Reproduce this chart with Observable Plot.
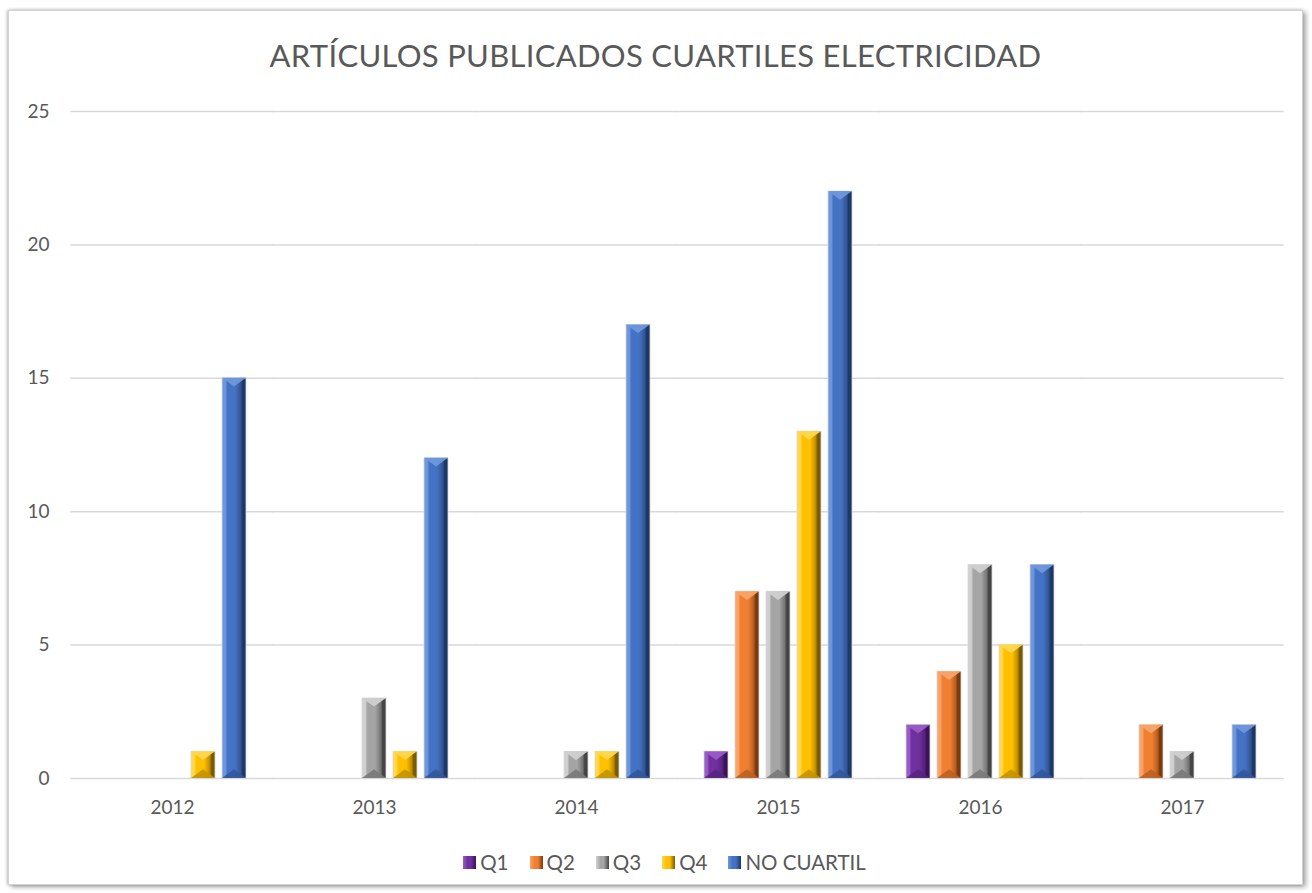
<!DOCTYPE html>
<html>
<head>
<meta charset="utf-8">
<script src="https://cdn.jsdelivr.net/npm/d3@7"></script>
<script src="https://cdn.jsdelivr.net/npm/@observablehq/plot@0.6"></script>
<style>
  html, body { margin: 0; padding: 0; background: #fff; }
  body { width: 1312px; height: 893px; position: relative; overflow: hidden; font-family: Lato, "Open Sans", sans-serif; }
  #frame {
    position: absolute; left: 8px; top: 10px; width: 1293px; height: 873px;
    border: 1px solid #d4d4d4; box-shadow: 3px 2px 5px rgba(0,0,0,0.35), -1px 0 3px rgba(0,0,0,0.25);
    background: #fff;
  }
  #title { height: 85px; line-height: 88px; text-align: center; font-size: 31px; color: #595959; letter-spacing: 0.3px; }
  #chart svg { display: block; }
  #legend { display: flex; justify-content: center; align-items: center; gap: 21px; font-size: 20.5px; color: #595959; margin-top: 9px; padding-left: 18px; }
  .item { display: flex; align-items: center; gap: 4px; }
  .sw { width: 13px; height: 13px; }
</style>
</head>
<body>
<div id="frame">
  <div id="title">ARTÍCULOS PUBLICADOS CUARTILES ELECTRICIDAD</div>
  <div id="chart"></div>
  <div id="legend"></div>
</div>
<script>
const years = ["2012", "2013", "2014", "2015", "2016", "2017"];
const series = ["Q1", "Q2", "Q3", "Q4", "NO CUARTIL"];
const q1 = [0, 0, 0, 1, 2, 0];
const q2 = [0, 0, 0, 7, 4, 2];
const q3 = [0, 3, 1, 7, 8, 1];
const q4 = [1, 1, 1, 13, 5, 0];
const noCuartil = [15, 12, 17, 22, 8, 2];
const yTicks = [0, 5, 10, 15, 20, 25];
const colors = ["#7030a0", "#f07f32", "#a5a5a5", "#ffc000", "#4472c4"];
const lights = ["#9a5cc8", "#f9a468", "#d0d0d0", "#ffd84d", "#6f97dc"];
const darks = ["#3a1256", "#7a3a0e", "#444444", "#7a5a00", "#1d3766"];

const valueArrays = [q1, q2, q3, q4, noCuartil];
const data = [];
years.forEach((yr, j) => series.forEach((s, i) => data.push({year: yr, series: s, value: valueArrays[i][j], idx: i})));

const W = 1293, ML = 61, MR = 19;
const fxPadInner = 0.18, fxPadOuter = 0.09;
const fxStep = (W - ML - MR) / (years.length - fxPadInner + 2 * fxPadOuter);
const gapHalf = fxStep * fxPadInner / 2 + 0.5;

const barMarks = series.map((s, i) =>
  Plot.barY(data.filter(d => d.series === s && d.value > 0), {
    fx: "year", x: "series", y: "value",
    fill: `url(#grad${i})`, stroke: "#d8d8d8", strokeWidth: 0.8
  })
);

const plot = Plot.plot({
  width: W,
  height: 745,
  marginLeft: ML,
  marginRight: MR,
  marginTop: 15,
  marginBottom: 63,
  style: {fontFamily: "Lato, 'Open Sans', sans-serif", fontSize: "19px", color: "#595959", background: "transparent"},
  fx: {domain: years, paddingInner: fxPadInner, paddingOuter: fxPadOuter, label: null, tickSize: 0, tickPadding: 22, axis: "bottom"},
  x: {domain: series, padding: 0.21, axis: null},
  y: {domain: [0, 25], ticks: yTicks, label: null, tickSize: 0, tickPadding: 40},
  marks: [
    Plot.ruleY(yTicks, {stroke: "#d9d9d9", strokeWidth: 1.5, insetLeft: -gapHalf, insetRight: -gapHalf}),
    ...barMarks
  ]
});

// gradient definitions for bevel look
const svgNS = "http://www.w3.org/2000/svg";
const defs = document.createElementNS(svgNS, "defs");
colors.forEach((c, i) => {
  const g = document.createElementNS(svgNS, "linearGradient");
  g.setAttribute("id", `grad${i}`);
  g.setAttribute("x1", "0"); g.setAttribute("x2", "1"); g.setAttribute("y1", "0"); g.setAttribute("y2", "0");
  [[0, lights[i]], [0.14, lights[i]], [0.22, c], [0.55, c], [0.78, d3.interpolateRgb(c, darks[i])(0.5)], [0.86, darks[i]], [1, darks[i]]].forEach(([o, col]) => {
    const st = document.createElementNS(svgNS, "stop");
    st.setAttribute("offset", o); st.setAttribute("stop-color", col);
    g.appendChild(st);
  });
  defs.appendChild(g);
});
const svgEl = plot.tagName.toLowerCase() === "svg" ? plot : plot.querySelector("svg");
svgEl.insertBefore(defs, svgEl.firstChild);

// bevel caps derived from the rendered bar rects
const allRects = Array.from(svgEl.querySelectorAll("rect"));
series.forEach((s, i) => {
  const key = `url(#grad${i})`;
  allRects.filter(r => {
    let n = r;
    while (n && n !== svgEl) {
      if (n.getAttribute && n.getAttribute("fill") === key) return true;
      n = n.parentNode;
    }
    return false;
  }).forEach(r => {
    const x = +r.getAttribute("x"), y = +r.getAttribute("y");
    const w = +r.getAttribute("width"), h = +r.getAttribute("height");
    const t = Math.min(w * 0.36, h / 2);
    const top = document.createElementNS(svgNS, "polygon");
    top.setAttribute("points", `${x},${y} ${x + w},${y} ${x + w / 2},${y + t}`);
    top.setAttribute("fill", lights[i]);
    top.setAttribute("fill-opacity", "0.95");
    top.setAttribute("stroke", "none");
    const bot = document.createElementNS(svgNS, "polygon");
    bot.setAttribute("points", `${x},${y + h} ${x + w},${y + h} ${x + w / 2},${y + h - t}`);
    bot.setAttribute("fill", d3.interpolateRgb(colors[i], darks[i])(0.45));
    bot.setAttribute("fill-opacity", "0.9");
    bot.setAttribute("stroke", "none");
    const p = r.parentNode;
    p.insertBefore(bot, r.nextSibling);
    p.insertBefore(top, r.nextSibling);
  });
});
document.getElementById("chart").appendChild(plot);

// legend
const legend = document.getElementById("legend");
series.forEach((s, i) => {
  const it = document.createElement("div");
  it.className = "item";
  const sw = document.createElement("div");
  sw.className = "sw";
  sw.style.background = `linear-gradient(90deg, ${lights[i]} 0%, ${colors[i]} 35%, ${colors[i]} 60%, ${darks[i]} 100%)`;
  const lb = document.createElement("span");
  lb.textContent = s;
  it.appendChild(sw); it.appendChild(lb);
  legend.appendChild(it);
});
</script>
</body>
</html>
